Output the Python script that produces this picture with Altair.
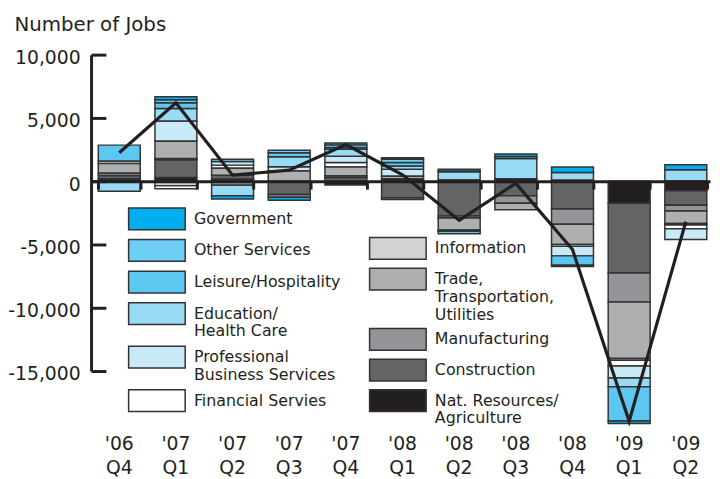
import altair as alt
import pandas as pd

quarters = ["'06\nQ4", "'07\nQ1", "'07\nQ2", "'07\nQ3", "'07\nQ4", "'08\nQ1",
            "'08\nQ2", "'08\nQ3", "'08\nQ4", "'09\nQ1", "'09\nQ2"]

# stacking order: nearest zero first
nat_resources = [200, 300, 170, -50, -300, 200, 100, 200, 80, -1750, -750]
construction = [250, 1400, 300, -1000, 300, -1300, -2750, -1150, -2200, -5500, -1150]
manufacturing = [200, 100, -300, -200, 130, -150, -150, -600, -1200, -2300, -450]
trade = [750, 1350, 550, 800, 700, 200, -950, -500, -1600, -4450, -1000]
information = [0, -350, 0, 0, 0, 0, -100, 0, -150, -150, -100]
financial = [200, -250, 250, 0, 340, 0, 0, 0, 0, -450, -300]
professional = [0, 1600, 280, 340, 500, 550, 0, 0, -750, -950, -850]
education = [-800, 1000, -850, 800, 550, 260, 650, 1600, 600, -700, 900]
leisure = [1250, 450, 0, 300, 150, 260, -200, 0, -750, -2700, 0]
other_services = [0, 240, 180, 200, 200, 260, 50, 150, -100, 0, 0]
government = [0, 230, -250, -250, 150, 130, 150, 200, 450, -200, 400]

total_jobs = [2250, 6200, 480, 870, 2900, 500, -3090, -170, -5400, -18970, -3200]

sector_names = ["Nat. Resources/\nAgriculture", "Construction", "Manufacturing",
                "Trade,\nTransportation,\nUtilities", "Information",
                "Financial Servies", "Professional\nBusiness Services",
                "Education/\nHealth Care", "Leisure/Hospitality",
                "Other Services", "Government"]
sector_values = [nat_resources, construction, manufacturing, trade, information,
                 financial, professional, education, leisure, other_services,
                 government]
sector_colors = ["#231F20", "#636466", "#939598", "#AEAFB1", "#D1D2D4",
                 "#FFFFFF", "#C7E9F8", "#99DAF5", "#5CC8F2", "#6DCFF6", "#00AEEF"]
goods = sector_names[:5]
services = sector_names[5:]

rows = []
for i, (name, vals) in enumerate(zip(sector_names, sector_values)):
    for q, v in zip(quarters, vals):
        rows.append({"quarter": q, "sector": name, "value": v, "ord": i,
                     "group": "goods" if name in goods else "services"})
df = pd.DataFrame(rows)
df_tot = pd.DataFrame({"quarter": quarters, "total": total_jobs})

FONT = "DejaVu Sans"
INK = "#231F20"
W, H = 626, 320
ZERO_OFFSET = -(H - 128)
Y_TICKS = [-15000, -10000, -5000, 0, 5000, 10000]

xscale = alt.Scale(paddingInner=0.26, paddingOuter=0.0925, align=0.69)
yscale = alt.Scale(domain=[-15000, 10000], nice=False, zero=False)

services_rev = list(reversed(services))
goods_rev = list(reversed(goods))
color_map = dict(zip(sector_names, sector_colors))

legend_common = dict(
    orient="none", title=None,
    symbolType="M-2.6,-1H2.6V1H-2.6Z", symbolSize=484,
    symbolStrokeColor="#333333", symbolStrokeWidth=1.5, symbolOpacity=1,
    labelFont=FONT, labelFontSize=16, labelColor=INK, labelOffset=25.4,
    labelLimit=400, padding=0,
    labelExpr="split(datum.label, '\\n')",
)

base = alt.Chart(df).transform_filter("datum.value != 0").transform_stack(
    stack="value", as_=["y0", "y1"], groupby=["quarter"],
    sort=[alt.SortField("ord", order="ascending")], offset="zero")

bars_services = base.transform_filter("datum.group == 'services'").mark_bar(
    stroke="#333333", strokeWidth=1.5
).encode(
    x=alt.X("quarter:N", sort=quarters, scale=xscale, title=None,
            axis=alt.Axis(orient="bottom", domain=False, ticks=False, labelAngle=0,
                          labelPadding=64, labelFont=FONT, labelFontSize=19,
                          labelColor=INK, labelLineHeight=25, grid=False,
                          labelExpr="split(datum.label, '\\n')")),
    y=alt.Y("y0:Q", scale=yscale, title="Number of Jobs",
            axis=alt.Axis(orient="left", values=Y_TICKS,
                          labelExpr="replace(format(datum.value, ','), '\u2212', '-')",
                          ticks=False, domain=False, grid=False,
                          labelPadding=11, labelFont=FONT, labelFontSize=19,
                          labelColor=INK, labelOffset=3, labelFlush=False,
                          titleAngle=0, titleX=-78, titleY=-24.2, titleAlign="left",
                          titleBaseline="alphabetic", titleFont=FONT,
                          titleFontSize=20, titleFontWeight="normal",
                          titleColor=INK)),
    y2="y1:Q",
    color=alt.Color("sector:N",
                    scale=alt.Scale(domain=services_rev,
                                    range=[color_map[s] for s in services_rev]),
                    legend=alt.Legend(legendX=54.6, legendY=154, rowPadding=4,
                                      **legend_common)),
)

bars_goods = base.transform_filter("datum.group == 'goods'").mark_bar(
    stroke="#333333", strokeWidth=1.5
).encode(
    x=alt.X("quarter:N", sort=quarters, scale=xscale, axis=None),
    y=alt.Y("y0:Q", scale=yscale, axis=None),
    y2="y1:Q",
    fill=alt.Fill("sector:N",
                  scale=alt.Scale(domain=goods_rev,
                                  range=[color_map[s] for s in goods_rev]),
                  legend=alt.Legend(legendX=298.3, legendY=184, rowPadding=3,
                                    **legend_common)),
)

line = alt.Chart(df_tot).mark_line(color=INK, strokeWidth=3.2).encode(
    x=alt.X("quarter:N", sort=quarters, scale=xscale, title=None,
            axis=alt.Axis(orient="bottom", offset=ZERO_OFFSET, labels=False,
                          ticks=True, tickSize=8, tickWidth=3, tickColor=INK,
                          tickBand="extent", domain=True, domainWidth=3,
                          domainColor=INK, grid=False, zindex=1)),
    y=alt.Y("total:Q", scale=yscale, title=None,
            axis=alt.Axis(orient="right", offset=-W, labels=False,
                          values=Y_TICKS,
                          ticks=True, tickSize=15, tickWidth=3, tickColor=INK,
                          domain=True, domainWidth=3, domainColor=INK,
                          grid=False, zindex=1)),
)

chart = alt.layer(bars_services, bars_goods, line).resolve_axis(
    x="independent", y="independent"
).properties(
    width=W, height=H,
    autosize=alt.AutoSizeParams(type="none"),
    padding={"left": 84, "top": 44.5, "right": 2, "bottom": 105},
).configure_view(stroke=None)

chart.save("out.html", embed_options={"renderer": "svg", "actions": False})
